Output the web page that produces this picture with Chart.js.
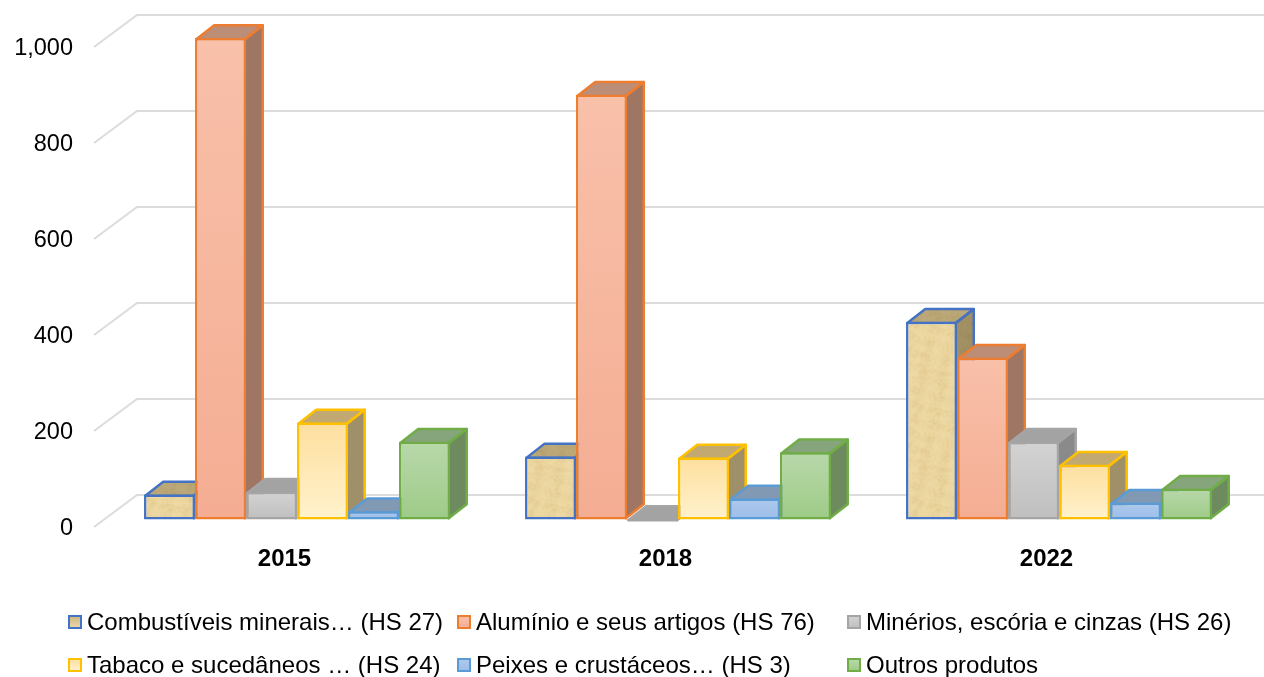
<!DOCTYPE html>
<html><head><meta charset="utf-8">
<style>html,body{margin:0;padding:0;background:#fff;overflow:hidden}canvas{display:block}</style>
<script src="https://cdn.jsdelivr.net/npm/chart.js@4"></script>
</head><body><canvas id="c" width="1264" height="677"></canvas>
<script>
const categories = ['2015','2018','2022'];
const combustiveis = [52,131,412];
const aluminio = [1003,885,337];
const minerios = [58,1,162];
const tabaco = [202,129,114];
const peixes = [17,44,35];
const outros = [162,140,64];
const seriesNames = ['Combustíveis minerais… (HS 27)','Alumínio e seus artigos (HS 76)','Minérios, escória e cinzas (HS 26)','Tabaco e sucedâneos … (HS 24)','Peixes e crustáceos… (HS 3)','Outros produtos'];
const seriesValues = [combustiveis,aluminio,minerios,tabaco,peixes,outros];
const borders = ['#4472C4','#ED7D31','#A5A5A5','#FFC000','#5B9BD5','#70AD47'];
const gradTop = ['#eed9a4','#f9c0aa','#d3d3d3','#fedf9e','#adc8ec','#b8d8aa'];
const gradBottom = ['#e9d295','#f4ad93','#bfbfbf','#fff2cd','#9dbfea','#9ecb88'];
const topFaces = ['#b9a273','#bc8d77','#a3a3a3','#c2a972','#8199b3','#87a57c'];
const sideFaces = ['#968661','#9e7663','#8a8a8a','#a09069','#6f87a3','#6e8b60'];
const FONT = '"Liberation Sans", Arial, sans-serif';
const OFF_X = 12.5, OFF_Y = -7.5, DX = 18, DY = 14, BACK_X = 43, BACK_Y = 32, BW = 2.5;

// parchment-like texture for the first series
function makeTexture(){
  const s = 96, t = document.createElement('canvas'); t.width = t.height = s;
  const g = t.getContext('2d');
  g.fillStyle = '#ecd69f'; g.fillRect(0,0,s,s);
  for(let y=0;y<s;y+=2) for(let x=0;x<s;x+=2){
    const n = Math.sin(x*12.9898+y*78.233)*43758.5453, r = n-Math.floor(n);
    const m = Math.sin(x*0.31+y*0.07)+Math.sin(y*0.43-x*0.11);
    const a = (r-0.5)*0.2 + m*0.05;
    g.fillStyle = a>0 ? 'rgba(190,150,80,'+a+')' : 'rgba(255,245,215,'+(-a)+')';
    g.fillRect(x,y,2,2);
  }
  return t;
}
const texture = makeTexture();
const cv = document.getElementById('c'), cx = cv.getContext('2d');
const pattern = cx.createPattern(texture,'repeat');

function frontFill(ctx){
  const i = ctx.datasetIndex;
  if(i===0) return pattern;
  const y = ctx.chart.scales.y;
  const top = y.getPixelForValue(ctx.raw===undefined?0:ctx.raw), bot = y.getPixelForValue(0);
  if(!isFinite(top) || bot-top<1) return gradTop[i];
  const g = ctx.chart.ctx.createLinearGradient(0,top,0,bot);
  g.addColorStop(0,gradTop[i]); g.addColorStop(1,gradBottom[i]);
  return g;
}

function drawFaces(c,meta,i){
  meta.data.forEach(el=>{
    const p = el.getProps(['x','y','base','width'],true);
    const h = BW/2;
    const l = p.x-p.width/2+h, r = p.x+p.width/2-h, t = p.y+h, b = p.base-h;
    c.lineWidth = BW; c.lineJoin = 'round'; c.strokeStyle = borders[i];
    const top = new Path2D(); top.moveTo(l,t); top.lineTo(l+DX,t-DY); top.lineTo(r+DX,t-DY); top.lineTo(r,t); top.closePath();
    const side = new Path2D(); side.moveTo(r,t); side.lineTo(r+DX,t-DY); side.lineTo(r+DX,b-DY); side.lineTo(r,b); side.closePath();
    if(i===0){
      c.fillStyle = pattern; c.fill(side); c.fill(top);
      c.fillStyle = 'rgba(60,45,15,.42)'; c.fill(side);
      c.fillStyle = 'rgba(60,45,15,.28)'; c.fill(top);
    } else {
      c.fillStyle = sideFaces[i]; c.fill(side);
      c.fillStyle = topFaces[i]; c.fill(top);
    }
    c.stroke(side); c.stroke(top);
  });
}

const scene = {
  id:'scene',
  beforeDatasetsDraw(chart){
    const c = chart.ctx, y = chart.scales.y, a = chart.chartArea;
    c.save(); c.strokeStyle = '#dcdcdc'; c.lineWidth = 2; c.lineJoin='miter';
    y.ticks.forEach(t=>{
      const py = y.getPixelForValue(t.value);
      c.beginPath(); c.moveTo(a.left,py); c.lineTo(a.left+BACK_X,py-BACK_Y); c.lineTo(a.right+BACK_X,py-BACK_Y); c.stroke();
    });
    c.restore();
  },
  // the default pass paints the first dataset last; here each column must cover the one on its left
  beforeDatasetDraw(){ return false; },
  afterDatasetsDraw(chart){
    const c = chart.ctx;
    chart.getSortedVisibleDatasetMetas().forEach(meta=>{
      c.save(); c.translate(OFF_X,OFF_Y);
      drawFaces(c,meta,meta.index);
      meta.controller.draw();
      c.restore();
    });
  },
  afterDraw(chart){
    const c = chart.ctx, cols = [69,458,848], rows = [622,665];
    c.save(); c.font = '24px '+FONT; c.textBaseline = 'middle'; c.textAlign='left';
    seriesNames.forEach((name,i)=>{
      const x = cols[i%3], y = rows[Math.floor(i/3)];
      const g = c.createLinearGradient(0,y-6,0,y+6);
      const a = i===0?'#cfb680':gradTop[i], b = i===0?'#ecd9a8':gradBottom[i];
      g.addColorStop(0,a); g.addColorStop(1,b);
      c.fillStyle = g; c.fillRect(x,y-6,12,12);
      c.strokeStyle = borders[i]; c.lineWidth = 2; c.strokeRect(x,y-6,12,12);
      c.fillStyle = '#000'; c.fillText(name,x+18,y+1);
    });
    c.restore();
  }
};

new Chart(cx,{
  type:'bar',
  data:{labels:categories,datasets:seriesValues.map((v,i)=>({
    label:seriesNames[i],data:v,clip:false,
    backgroundColor:frontFill,borderColor:borders[i],borderWidth:BW,borderSkipped:false,
    categoryPercentage:0.803,barPercentage:1
  }))},
  options:{
    responsive:false,animation:false,locale:'en-US',
    layout:{padding:{top:47,right:27,left:0,bottom:0}},
    plugins:{legend:{display:false},tooltip:{enabled:false}},
    scales:{
      x:{grid:{display:false},border:{display:false},
        afterFit(s){s.height=150;},
        ticks:{color:'#000',padding:10,font:{family:FONT,size:24,weight:'bold'}}},
      y:{min:0,max:1000,grid:{display:false,drawTicks:false},border:{display:false},
        afterFit(s){s.width=94;},
        ticks:{stepSize:200,color:'#000',padding:21,labelOffset:1.5,font:{family:FONT,size:23.5}}}
    }
  },
  plugins:[scene]
});
</script></body></html>
